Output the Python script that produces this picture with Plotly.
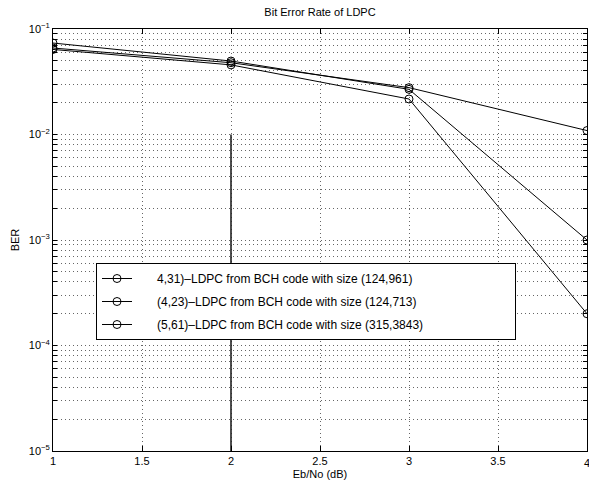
import plotly.graph_objects as go

ebno = [1, 2, 3, 4]
ber_431 = [0.066, 0.0479, 0.0278, 0.0109]
ber_423 = [0.0736, 0.0497, 0.0268, 0.0010]
ber_561 = [0.064, 0.0457, 0.0217, 0.0002]
names = [
    "4,31)\u2013LDPC from BCH code with size (124,961)",
    "(4,23)\u2013LDPC from BCH code with size (124,713)",
    "(5,61)\u2013LDPC from BCH code with size (315,3843)",
]
stray_x = [2, 2]
stray_y = [1e-2, 1e-5]

x_ticks = [1, 1.5, 2, 2.5, 3, 3.5, 4]
y_vals = []
y_text = []
for e in range(-5, -1 + 1):
    for m in range(1, 10):
        if e == -1 and m > 1:
            break
        y_vals.append(m * 10.0 ** e)
        y_text.append(f"10<sup>\u2212{-e}</sup>" if m == 1 else "")

PRE = "\u00a0" * 6
PAD = "\u00a0" * 26

fig = go.Figure()
for i, (ys, nm) in enumerate(zip([ber_431, ber_423, ber_561], names)):
    label = PRE + nm + (PAD if i == 2 else "")
    fig.add_trace(go.Scatter(
        x=ebno, y=ys, name=label, mode="lines+markers", legendgroup=f"g{i}",
        line=dict(color="black", width=1),
        marker=dict(symbol="circle-open", size=8, color="black", line=dict(width=1)),
    ))
fig.add_trace(go.Scatter(x=stray_x, y=stray_y, mode="lines", showlegend=False,
                         line=dict(color="#222", width=1.6)))

font = dict(family="Liberation Sans, Arial, sans-serif", size=11, color="black")
grid = dict(showgrid=True, gridcolor="rgba(0,0,0,0.6)", griddash="1px,3px", gridwidth=1)
fig.update_layout(
    width=589, height=483,
    margin=dict(l=53, r=2, t=29, b=32),
    paper_bgcolor="white", plot_bgcolor="white",
    font=font,
    title=dict(text="Bit Error Rate of LDPC", x=320 / 589, xanchor="center",
               y=1 - 12 / 483, yanchor="middle", font=dict(size=11)),
    legend=dict(x=(96 - 53) / 534, y=1 - (263 - 29) / 422, xanchor="left", yanchor="top",
                bgcolor="white", bordercolor="black", borderwidth=1,
                font=dict(size=12), tracegroupgap=4),
    showlegend=True,
)
fig.add_annotation(x=4, y=0, xref="x", yref="paper", yshift=-4, text="4",
                   showarrow=False, xanchor="center", yanchor="top", font=dict(size=11))
fig.update_xaxes(
    range=[1, 4], tickvals=x_ticks, ticktext=[str(v) for v in x_ticks],
    showline=True, linecolor="black", linewidth=1, mirror="ticks",
    ticks="inside", ticklen=5, tickcolor="black",
    zeroline=False, **grid,
    title=dict(text="Eb/No (dB)", standoff=4, font=dict(size=11)),
)
fig.update_yaxes(
    type="log", range=[-5, -1], tickvals=y_vals, ticktext=y_text,
    showline=True, linecolor="black", linewidth=1, mirror="ticks",
    ticks="inside", ticklen=4, tickcolor="black",
    zeroline=False, **grid,
    title=dict(text="BER", standoff=6, font=dict(size=11)),
)
fig.write_html("out.html", config={"displayModeBar": False},
               post_script="document.body.style.margin='0';document.body.style.overflow='hidden';")
